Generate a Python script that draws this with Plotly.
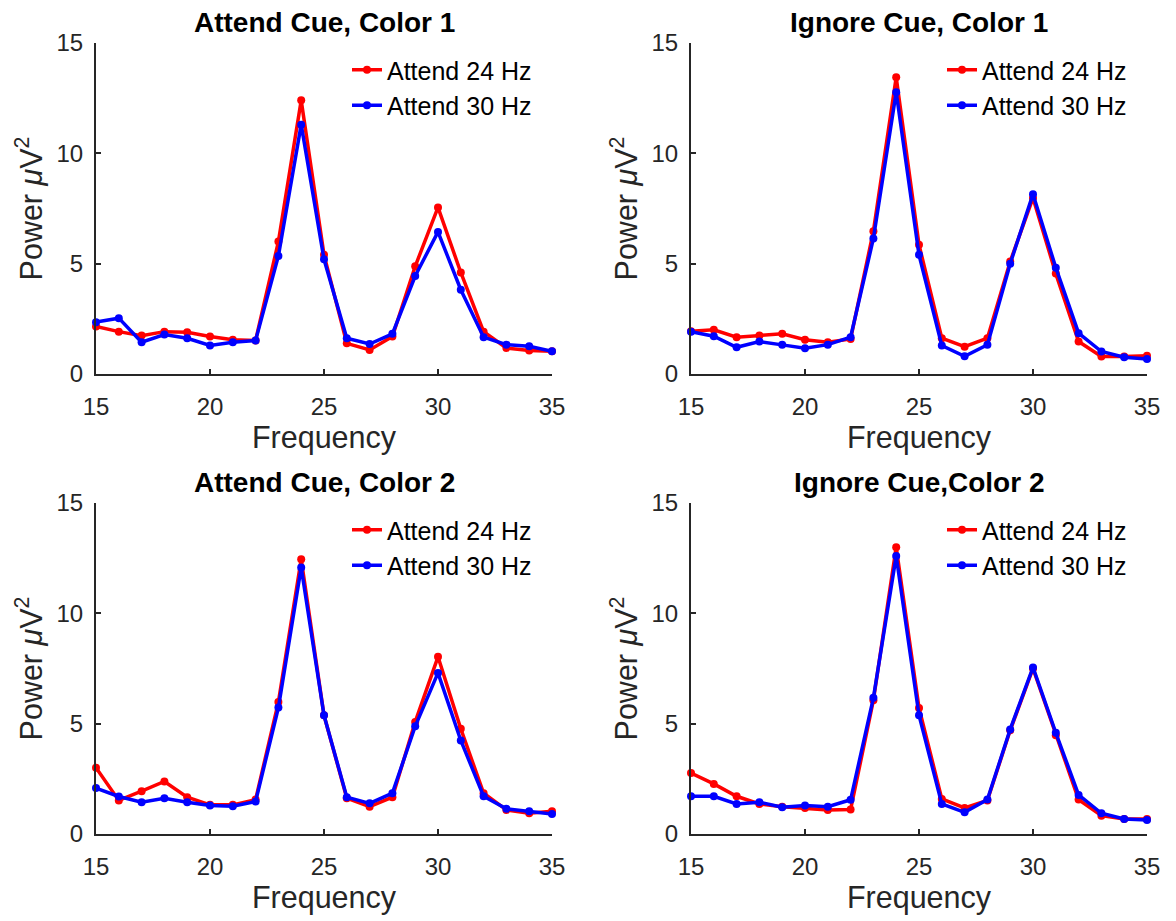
import plotly.graph_objects as go

freq = list(range(15, 36))

titles = ["Attend Cue, Color 1", "Ignore Cue, Color 1", "Attend Cue, Color 2", "Ignore Cue,Color 2"]

# Panel 1: Attend Cue, Color 1
p1_att24 = [2.15, 1.92, 1.74, 1.92, 1.89, 1.70, 1.55, 1.52, 6.0, 12.4, 5.4, 1.39, 1.09, 1.70, 4.88, 7.55, 4.6, 1.92, 1.18, 1.06, 1.03]
p1_att30 = [2.35, 2.53, 1.44, 1.79, 1.62, 1.29, 1.44, 1.52, 5.35, 11.3, 5.2, 1.62, 1.36, 1.82, 4.44, 6.44, 3.82, 1.67, 1.33, 1.26, 1.03]
# Panel 2: Ignore Cue, Color 1
p2_att24 = [1.94, 2.0, 1.67, 1.74, 1.82, 1.55, 1.44, 1.59, 6.47, 13.45, 5.86, 1.62, 1.24, 1.62, 5.1, 7.98, 4.55, 1.47, 0.79, 0.79, 0.83]
p2_att30 = [1.92, 1.71, 1.21, 1.47, 1.32, 1.17, 1.33, 1.67, 6.14, 12.77, 5.4, 1.29, 0.80, 1.32, 5.0, 8.15, 4.82, 1.85, 1.02, 0.76, 0.68]
# Panel 3: Attend Cue, Color 2
p3_att24 = [3.0, 1.52, 1.94, 2.38, 1.67, 1.32, 1.32, 1.56, 5.98, 12.45, 5.38, 1.62, 1.24, 1.67, 5.08, 8.03, 4.77, 1.85, 1.09, 0.94, 1.03]
p3_att30 = [2.08, 1.70, 1.44, 1.62, 1.44, 1.29, 1.26, 1.47, 5.73, 12.08, 5.38, 1.67, 1.39, 1.85, 4.88, 7.30, 4.24, 1.71, 1.14, 1.03, 0.91]
# Panel 4: Ignore Cue, Color 2
p4_att24 = [2.76, 2.27, 1.71, 1.36, 1.24, 1.18, 1.09, 1.11, 6.06, 13.0, 5.71, 1.59, 1.18, 1.52, 4.7, 7.5, 4.47, 1.56, 0.83, 0.68, 0.68]
p4_att30 = [1.71, 1.71, 1.36, 1.44, 1.21, 1.29, 1.24, 1.55, 6.17, 12.6, 5.38, 1.36, 0.98, 1.56, 4.74, 7.55, 4.59, 1.77, 0.94, 0.68, 0.64]

series = [(p1_att24, p1_att30), (p2_att24, p2_att30), (p3_att24, p3_att30), (p4_att24, p4_att30)]

x_ticks = [15, 20, 25, 30, 35]
y_ticks = [0, 5, 10, 15]

W, H = 1176, 921
FONT = "Liberation Sans, Arial, Helvetica, sans-serif"
AXC = "#262626"

# plot-area pixel boxes in figure coords (left, right, top, bottom)
boxes = [(88, 544, 35, 366), (683, 1139, 35, 366), (88, 544, 495, 826), (683, 1139, 495, 826)]

fig = go.Figure()
layout = dict(width=W, height=H, margin=dict(l=0, r=0, t=0, b=0, autoexpand=False),
              paper_bgcolor="white", plot_bgcolor="white",
              font=dict(family=FONT, color="black"), showlegend=True)
annotations = []

for i, ((l, r, t, b), (s24, s30)) in enumerate(zip(boxes, series)):
    n = "" if i == 0 else str(i + 1)
    xa, ya = "x" + n, "y" + n
    leg = "legend" + n
    fig.add_trace(go.Scatter(x=freq, y=s24, mode="lines+markers", name="Attend 24 Hz",
                             line=dict(color="#ff0000", width=3.5), marker=dict(size=8, color="#ff0000"),
                             xaxis=xa, yaxis=ya, legend=leg, cliponaxis=False))
    fig.add_trace(go.Scatter(x=freq, y=s30, mode="lines+markers", name="Attend 30 Hz",
                             line=dict(color="#0000ff", width=3.5), marker=dict(size=8, color="#0000ff"),
                             xaxis=xa, yaxis=ya, legend=leg, cliponaxis=False))
    xd = [l / W, r / W]
    yd = [1 - b / H, 1 - t / H]
    layout["xaxis" + n] = dict(domain=xd, anchor=ya, range=[15, 35], tickvals=x_ticks,
                               showline=True, linecolor=AXC, linewidth=2.2, ticks="inside",
                               ticklen=5, tickwidth=1.5, tickcolor=AXC, showgrid=False, zeroline=False,
                               automargin=False, ticklabelstandoff=10,
                               tickfont=dict(size=24, color=AXC, family=FONT),
                               title=dict(text="Frequency", font=dict(size=30.5, color=AXC, family=FONT), standoff=4))
    layout["yaxis" + n] = dict(domain=yd, anchor=xa, range=[0, 15], tickvals=y_ticks,
                               showline=True, linecolor=AXC, linewidth=2.2, ticks="inside",
                               ticklen=5, tickwidth=1.5, tickcolor=AXC, showgrid=False, zeroline=False,
                               automargin=False, ticklabelstandoff=6,
                               tickfont=dict(size=24, color=AXC, family=FONT),
                               title=dict(text="Power <i>μ</i>V<sup>2</sup>", font=dict(size=30.5, color=AXC, family=FONT), standoff=5))
    layout[leg] = dict(x=(l + 251) / W, y=1 - (t + 4) / H, xanchor="left", yanchor="top",
                       bgcolor="rgba(0,0,0,0)", borderwidth=0,
                       font=dict(size=25, color="black", family=FONT), tracegroupgap=0,
                       itemwidth=30)
    annotations.append(dict(text="<b>" + titles[i] + "</b>", x=(l + r) / 2 / W, y=1 - (t - 21) / H,
                            xref="paper", yref="paper", xanchor="center", yanchor="middle",
                            showarrow=False, font=dict(size=28, color="black", family=FONT)))

layout["annotations"] = annotations
fig.update_layout(**layout)
fig.write_html("out.html")
